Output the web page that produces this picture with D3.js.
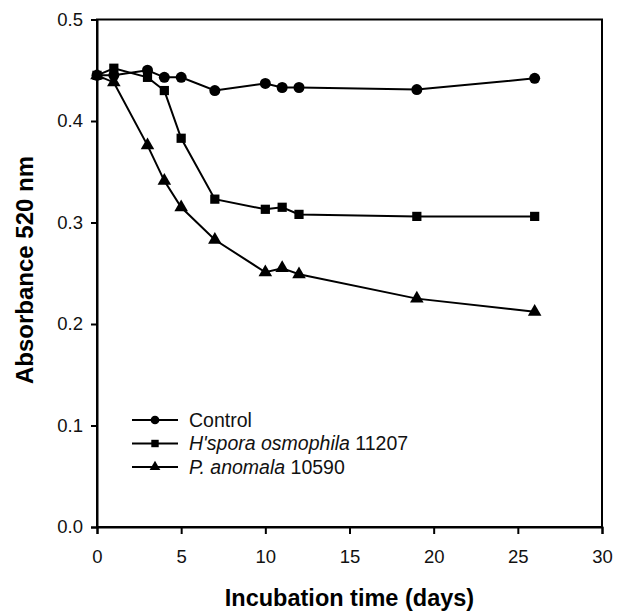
<!DOCTYPE html>
<html><head><meta charset="utf-8">
<script src="https://cdn.jsdelivr.net/npm/d3@7"></script>
<style>body{margin:0;background:#fff}svg{display:block}text{font-family:"Liberation Sans",Arial,sans-serif}</style>
</head><body><svg id="c" width="619" height="612"></svg>
<script>
const days = [0, 1, 3, 4, 5, 7, 10, 11, 12, 19, 26];
const control = [0.445, 0.445, 0.450, 0.443, 0.443, 0.430, 0.437, 0.433, 0.433, 0.431, 0.442];
const hspora = [0.445, 0.452, 0.443, 0.430, 0.383, 0.323, 0.313, 0.315, 0.308, 0.306, 0.306];
const panomala = [0.445, 0.438, 0.376, 0.341, 0.315, 0.283, 0.251, 0.255, 0.249, 0.225, 0.212];
const xTicks = [0, 5, 10, 15, 20, 25, 30];
const yTicks = [0.0, 0.1, 0.2, 0.3, 0.4, 0.5];

const svg = d3.select("#c");
const L = 97, R = 602, T = 19.5, B = 527;
const x = d3.scaleLinear().domain([0, 30]).range([L, R]);
const y = d3.scaleLinear().domain([0, 0.5]).range([B, T]);

// frame
svg.append("rect").attr("x", L).attr("y", T).attr("width", R - L).attr("height", B - T)
  .attr("fill", "none").attr("stroke", "#000").attr("stroke-width", 2);

const xa = svg.append("g").attr("transform", `translate(0,${B})`)
  .call(d3.axisBottom(x).tickValues(xTicks).tickSize(7).tickPadding(16).tickFormat(d3.format("d")));
const ya = svg.append("g").attr("transform", `translate(${L},0)`)
  .call(d3.axisLeft(y).tickValues(yTicks).tickSize(6).tickPadding(8).tickFormat(d3.format(".1f")));
[xa, ya].forEach(a => {
  a.select(".domain").attr("stroke-width", 2);
  a.selectAll(".tick line").attr("stroke-width", 2);
  a.selectAll("text").attr("font-size", 18.5).attr("fill", "#111").attr("font-family", '"Liberation Sans",Arial,sans-serif');
});

svg.append("text").attr("x", (L + R) / 2).attr("y", 606).attr("text-anchor", "middle")
  .attr("font-size", 23.5).attr("font-weight", "bold").text("Incubation time (days)");
svg.append("text").attr("transform", `translate(33,270) rotate(-90)`).attr("text-anchor", "middle")
  .attr("font-size", 24).attr("font-weight", "bold").text("Absorbance 520 nm");

const series = [
  {vals: control, sym: d3.symbolCircle, size: 95},
  {vals: hspora, sym: d3.symbolSquare, size: 85},
  {vals: panomala, sym: d3.symbolTriangle, size: 80}
];
const line = d3.line().x(d => x(d[0])).y(d => y(d[1]));
series.forEach(s => {
  const pts = days.map((d, i) => [d, s.vals[i]]);
  svg.append("path").attr("d", line(pts)).attr("fill", "none").attr("stroke", "#000").attr("stroke-width", 2);
  svg.selectAll(null).data(pts).enter().append("path")
    .attr("d", d3.symbol().type(s.sym).size(s.size))
    .attr("transform", d => `translate(${x(d[0])},${y(d[1])})`)
    .attr("fill", "#000");
});

// legend
const leg = [
  {sym: d3.symbolCircle, size: 60, parts: [["Control", false]]},
  {sym: d3.symbolSquare, size: 55, parts: [["H'spora osmophila", true], [" 11207", false]]},
  {sym: d3.symbolTriangle, size: 50, parts: [["P. anomala", true], [" 10590", false]]}
];
leg.forEach((l, i) => {
  const yy = 420 + i * 23.5;
  svg.append("line").attr("x1", 132).attr("x2", 178).attr("y1", yy).attr("y2", yy).attr("stroke", "#000").attr("stroke-width", 2);
  svg.append("path").attr("d", d3.symbol().type(l.sym).size(l.size)).attr("transform", `translate(155,${yy})`).attr("fill", "#000");
  const t = svg.append("text").attr("x", 189).attr("y", yy + 6.5).attr("font-size", 19.5).attr("fill", "#111");
  l.parts.forEach(p => t.append("tspan").attr("font-style", p[1] ? "italic" : "normal").text(p[0]));
});
</script></body></html>
